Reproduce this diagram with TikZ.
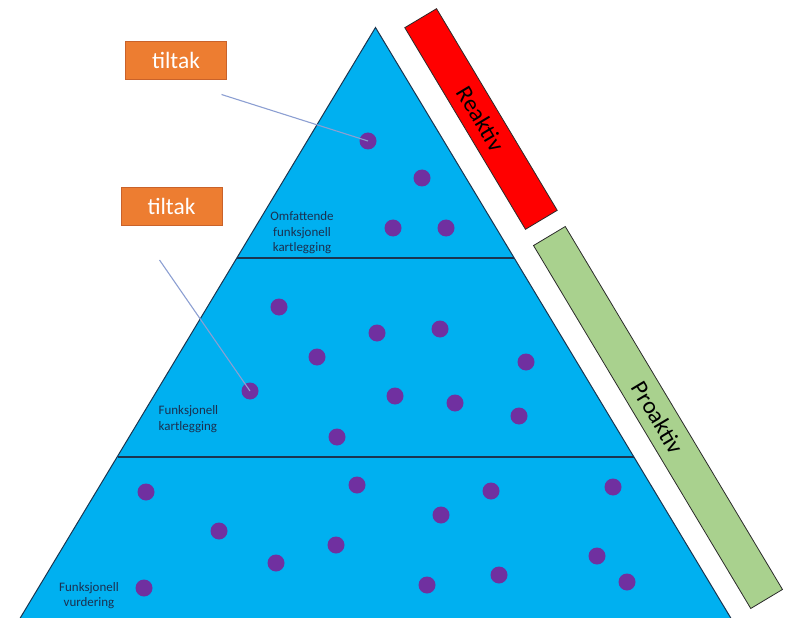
\documentclass[tikz,border=0pt]{standalone}
\usepackage{fontspec}
\setmainfont{Carlito}
\usepackage{tikz}
\usepackage{xcolor}
\usetikzlibrary{shapes}
\definecolor{pyrblue}{HTML}{00B0F0}
\definecolor{pyredge}{HTML}{1B3550}
\definecolor{dotpurple}{HTML}{7030A0}
\definecolor{tiltakorange}{HTML}{ED7D31}
\definecolor{tiltakedge}{HTML}{C9622A}
\definecolor{reakred}{HTML}{FF0000}
\definecolor{proakgreen}{HTML}{A9D18E}
\definecolor{baredge}{HTML}{2A2A2A}
\definecolor{linkblue}{HTML}{8C9FD2}
\definecolor{labelnavy}{HTML}{1B3050}

\begin{document}
\begin{tikzpicture}[x=1bp, y=-1bp,
	dot/.style={fill=dotpurple, shape=circle, inner sep=0pt, minimum size=17bp},
	tiltakbox/.style={fill=tiltakorange, draw=tiltakedge, line width=0.8bp, minimum width=101bp, minimum height=38bp, text=white, font=\fontsize{23.5}{27}\selectfont},
	levellabel/.style={text=labelnavy, inner sep=0pt, font=\fontsize{13}{15.5}\selectfont},
	sidebar/.style={draw=baredge, line width=0.8bp, rotate=-59.1, inner sep=0pt, minimum height=37bp, font=\fontsize{24}{28}\selectfont},
	link/.style={draw=linkblue, line width=1.1bp}]
	\useasboundingbox (0, 0) rectangle (792, 618);
	% pyramid
	\begin{scope}
		\clip (0, 0) rectangle (792, 618);
		\draw [fill=pyrblue, draw=pyredge, line width=1bp] (375.5, 27.5) -- (13, 630) -- (738, 630) -- cycle;
	\end{scope}
	\draw [draw=pyredge, line width=1.4bp] (237, 258) -- (514, 258);
	\draw [draw=pyredge, line width=1.4bp] (117.5, 457) -- (633.5, 457);
	% dots, top level
	\node [dot] (o1) at (368, 141) {};
	\node [dot] (o2) at (422, 178) {};
	\node [dot] (o3) at (393, 228) {};
	\node [dot] (o4) at (446, 228) {};
	% dots, middle level
	\node [dot] (k1) at (279, 307) {};
	\node [dot] (k2) at (377, 333) {};
	\node [dot] (k3) at (440, 329) {};
	\node [dot] (k4) at (317, 357) {};
	\node [dot] (k5) at (526, 362) {};
	\node [dot] (k6) at (250, 391) {};
	\node [dot] (k7) at (395, 396) {};
	\node [dot] (k8) at (455, 403) {};
	\node [dot] (k9) at (519, 416) {};
	\node [dot] (k10) at (337, 437) {};
	% dots, bottom level
	\node [dot] (v1) at (146, 492) {};
	\node [dot] (v2) at (357, 485) {};
	\node [dot] (v3) at (491, 491) {};
	\node [dot] (v4) at (613, 487) {};
	\node [dot] (v5) at (441, 515) {};
	\node [dot] (v6) at (219, 531) {};
	\node [dot] (v7) at (336, 545) {};
	\node [dot] (v8) at (276, 563) {};
	\node [dot] (v9) at (597, 556) {};
	\node [dot] (v10) at (144, 588) {};
	\node [dot] (v11) at (427, 585) {};
	\node [dot] (v12) at (499, 575) {};
	\node [dot] (v13) at (627, 582) {};
	% level labels
	\node [levellabel, align=center] (omf) at (302, 233) {Omfattende\\funksjonell\\kartlegging};
	\node [levellabel, align=left, anchor=west] (fkart) at (158.5, 419) {Funksjonell\\kartlegging};
	\node [levellabel, align=center] (fvurd) at (89, 595.5) {Funksjonell\\vurdering};
	% tiltak
	\node [tiltakbox] (tiltak1) at (176, 60) {tiltak};
	\node [tiltakbox] (tiltak2) at (171.5, 206) {tiltak};
	\coordinate (end1) at (221.5, 94.5);
	\coordinate (end2) at (159.5, 260);
	\draw [link] (end1) to (o1.center);
	\draw [link] (end2) to (k6.center);
	% side bars
	\node [sidebar, fill=reakred, minimum width=235bp] (reak) at (481, 119) {Reaktiv};
	\node [sidebar, fill=proakgreen, minimum width=423bp] (proak) at (658, 417.5) {Proaktiv};
\end{tikzpicture}
\end{document}
